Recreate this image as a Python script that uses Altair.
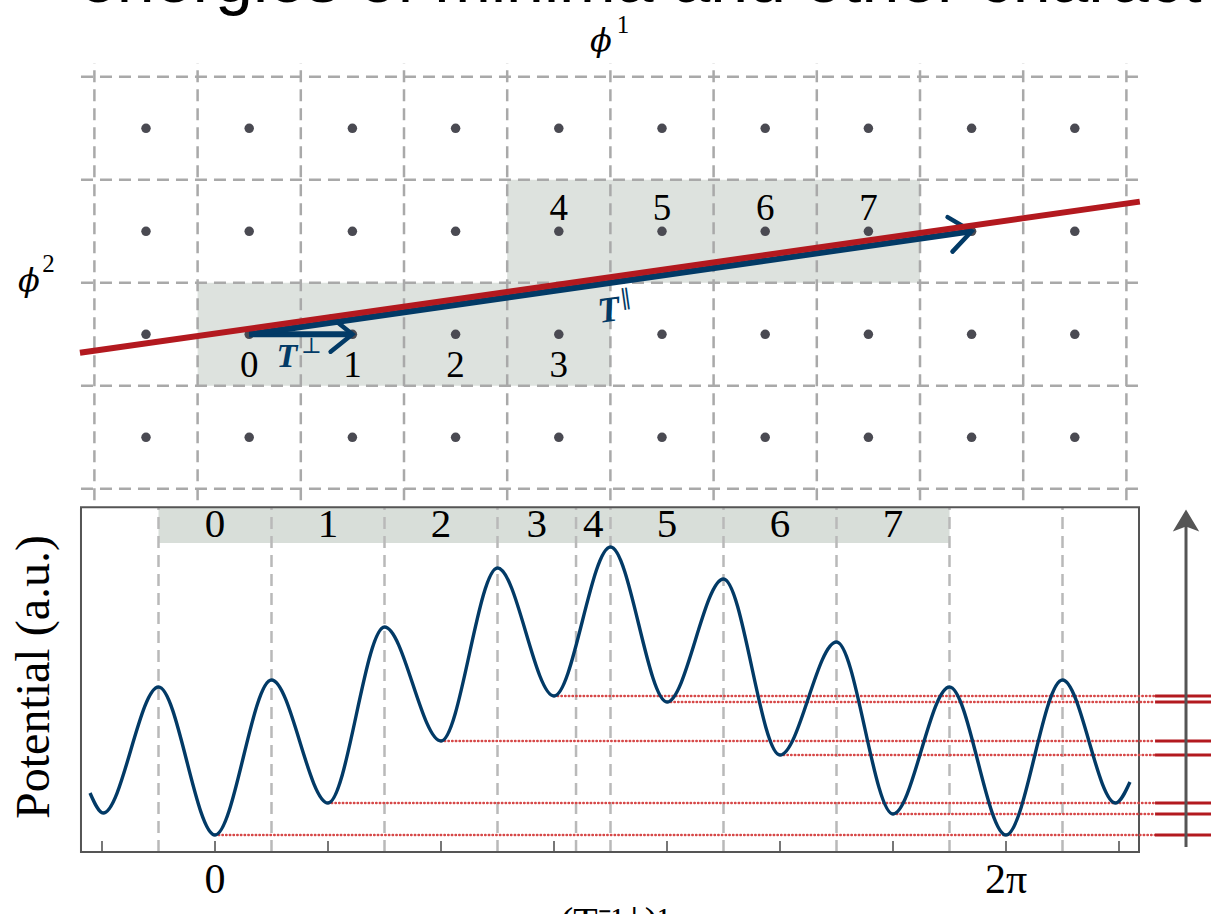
import math
import altair as alt
import pandas as pd

W, H = 1211, 914

# ---------------- data ----------------
TITLE_TEXT = "energies of minima and other charact"

LATTICE_COLS = list(range(10))
LATTICE_ROWS = list(range(4))
CELL_LABELS = ["0", "1", "2", "3", "4", "5", "6", "7"]
CELL_COLS = [1, 2, 3, 4, 4, 5, 6, 7]
CELL_ROWS = [1, 1, 1, 1, 2, 2, 2, 2]
T_PAR = [(1, 1), (8, 2)]     # lattice vector T parallel
T_PERP = [(1, 1), (2, 1)]    # lattice vector T perpendicular

# potential along the line (t in units of 2*pi/7)
POT_T = [-1.106, -0.99, -0.5, 0, 0.5, 1, 1.5, 2, 2.5, 3, 3.5, 4, 4.5, 5, 5.5, 6, 6.5, 7, 7.5, 7.97, 8.097]
POT_V = [5.9, 3.9, 16.5, 1.7, 17.2, 4.9, 22.5, 11.1, 28.4, 15.6, 30.5, 15.0, 27.3, 9.7, 21.0, 3.8, 16.5, 1.7, 17.2, 4.9, 7.0]
MIN_T = [0, 1, 2, 3, 4, 5, 6]
MIN_V = [1.7, 4.9, 11.1, 15.6, 15.0, 9.7, 3.8]
STRIP_EDGES = [-0.5, 0.5, 1.5, 2.5, 3.195, 3.5, 4.5, 5.5, 6.5]
DASH_T = STRIP_EDGES + [7.5]
TICK_T = list(range(-1, 9))
TICK_LABEL_T = [0, 7]
TICK_LABEL_TEXT = ["0", "2π"]

# ---------------- styles / scales ----------------
NAVY = "#023a66"
RED = "#b3191f"
DOTRED = "#d64848"
GRID = "#a9a9a9"
GRID2 = "#b9b9b9"
SHADE = "#dde2de"
STRIP = "#d8ded9"
DOT = "#4a4a52"
FRAME = "#555555"
SERIF = "Liberation Serif"

# top panel: lattice units
TX0, TXU = 146.0, 103.2
TY0, TYU = 437.3, 103.0
XT = alt.Scale(domain=[(0 - TX0) / TXU, (W - TX0) / TXU], nice=False, zero=False)
YT = alt.Scale(domain=[(TY0 - H) / TYU, TY0 / TYU], nice=False, zero=False)

# bottom panel: t in units of 2pi/7, potential in a.u.
BX0, BXU = 215.0, 113.0
BY0, BYU = 852.0, 10.0
XB = alt.Scale(domain=[(0 - BX0) / BXU, (W - BX0) / BXU], nice=False, zero=False)
YB = alt.Scale(domain=[(BY0 - H) / BYU, BY0 / BYU], nice=False, zero=False)

T_LO, T_HI, V_TOP = -1.186, 8.177, 34.47
STRIP_V = 30.9
LEVEL_END, TICK_END = 8.319, 8.82
ARROW_T = 8.593


def txt(x, y, s, xs, ys, **kw):
    df = pd.DataFrame({"x": [x], "y": [y], "s": [s]})
    return alt.Chart(df).mark_text(**kw).encode(
        x=alt.X("x:Q", scale=xs, axis=None),
        y=alt.Y("y:Q", scale=ys, axis=None),
        text="s:N",
    )


# ================= top panel =================
blocks = []
for r in sorted(set(CELL_ROWS)):
    cs = [c for c, rr in zip(CELL_COLS, CELL_ROWS) if rr == r]
    blocks.append({"i1": min(cs) - 0.5, "i2": max(cs) + 0.5, "j1": r - 0.5, "j2": r + 0.5})
shade = alt.Chart(pd.DataFrame(blocks)).mark_rect(color=SHADE, opacity=1).encode(
    x=alt.X("i1:Q", scale=XT, axis=None), x2="i2:Q",
    y=alt.Y("j1:Q", scale=YT, axis=None), y2="j2:Q")

vg = pd.DataFrame({"i": [c - 0.5 for c in range(len(LATTICE_COLS) + 1)], "j1": -0.61, "j2": 3.635})
vgrid = alt.Chart(vg).mark_rule(color=GRID, strokeWidth=2.5, strokeDash=[12, 7]).encode(
    x=alt.X("i:Q", scale=XT, axis=None),
    y=alt.Y("j1:Q", scale=YT, axis=None), y2="j2:Q")

hg = pd.DataFrame({"j": [r - 0.5 for r in range(len(LATTICE_ROWS) + 1)], "i1": -0.63, "i2": 9.62})
hgrid = alt.Chart(hg).mark_rule(color=GRID, strokeWidth=2.5, strokeDash=[12, 7]).encode(
    x=alt.X("i1:Q", scale=XT, axis=None), x2="i2:Q",
    y=alt.Y("j:Q", scale=YT, axis=None))

dots_df = pd.DataFrame([{"i": c, "j": r} for c in LATTICE_COLS for r in LATTICE_ROWS])
dots = alt.Chart(dots_df).mark_circle(size=90, color=DOT, opacity=1).encode(
    x=alt.X("i:Q", scale=XT, axis=None), y=alt.Y("j:Q", scale=YT, axis=None))

lab_df = pd.DataFrame({
    "label": CELL_LABELS,
    "i": CELL_COLS,
    "j": [r - 0.31 if r == min(CELL_ROWS) else r + 0.22 for r in CELL_ROWS],
})
cell_labels = alt.Chart(lab_df).mark_text(font=SERIF, fontSize=37, color="black", baseline="middle").encode(
    x=alt.X("i:Q", scale=XT, axis=None), y=alt.Y("j:Q", scale=YT, axis=None), text="label:N")

arrows = []
for (a, b) in (T_PERP, T_PAR):
    ang = math.degrees(math.atan2(-(b[1] - a[1]) * TYU, (b[0] - a[0]) * TXU)) % 360
    arrows.append({"i1": a[0], "j1": a[1], "i2": b[0], "j2": b[1], "ang": ang})
arrow_df = pd.DataFrame(arrows)
arrow_lines = alt.Chart(arrow_df).mark_rule(color=NAVY, strokeWidth=6).encode(
    x=alt.X("i1:Q", scale=XT, axis=None), x2="i2:Q",
    y=alt.Y("j1:Q", scale=YT, axis=None), y2="j2:Q")
CHEVRON = "M-1,-0.8L0,0L-1,0.8"
arrow_heads = alt.Chart(arrow_df).mark_point(
    shape=CHEVRON, filled=False, size=1900, strokeWidth=4.5, color=NAVY, opacity=1,
    strokeCap="round").encode(
    x=alt.X("i2:Q", scale=XT, axis=None), y=alt.Y("j2:Q", scale=YT, axis=None),
    angle=alt.Angle("ang:Q", scale=None))

# red line along T parallel, slightly above it
(a, b) = T_PAR
slope = (b[1] - a[1]) / (b[0] - a[0])
i_lo, i_hi, shift = -0.64, 9.63, 0.055
red_df = pd.DataFrame({
    "i1": [i_lo], "i2": [i_hi],
    "j1": [a[1] + shift + (i_lo - a[0]) * slope],
    "j2": [a[1] + shift + (i_hi - a[0]) * slope],
})
red_line = alt.Chart(red_df).mark_rule(color=RED, strokeWidth=6).encode(
    x=alt.X("i1:Q", scale=XT, axis=None), x2="i2:Q",
    y=alt.Y("j1:Q", scale=YT, axis=None), y2="j2:Q")

top_texts = [
    txt(-0.649, 4.228, TITLE_TEXT, XT, YT, font="Liberation Sans", fontSize=68, align="left",
        baseline="alphabetic", color="black"),
    txt(4.409, 3.848, "ϕ", XT, YT, font="DejaVu Serif", fontStyle="italic", fontSize=32,
        baseline="middle", color="black"),
    txt(4.622, 4.003, "1", XT, YT, font=SERIF, fontSize=25, baseline="middle", color="black"),
    txt(-1.134, 1.518, "ϕ", XT, YT, font="DejaVu Serif", fontStyle="italic", fontSize=32,
        baseline="middle", color="black"),
    txt(-0.944, 1.687, "2", XT, YT, font=SERIF, fontSize=25, baseline="middle", color="black"),
    txt(1.366, 0.784, "T", XT, YT, font=SERIF, fontStyle="italic", fontWeight="bold", fontSize=34,
        baseline="middle", color=NAVY),
    txt(1.605, 0.886, "⊥", XT, YT, font="DejaVu Serif", fontSize=22, baseline="middle", color=NAVY),
    txt(4.486, 1.231, "T", XT, YT, font=SERIF, fontStyle="italic", fontWeight="bold", fontSize=36,
        baseline="middle", color=NAVY, angle=352),
    txt(4.645, 1.357, "‖", XT, YT, font="DejaVu Serif", fontSize=22, baseline="middle", color=NAVY,
        angle=352),
]

top = alt.layer(shade, vgrid, hgrid, dots, cell_labels, arrow_lines, arrow_heads, red_line, *top_texts)

# ================= bottom panel =================
strip_df = pd.DataFrame({"t1": [STRIP_EDGES[0]], "t2": [STRIP_EDGES[-1]], "v1": [STRIP_V], "v2": [V_TOP]})
strip = alt.Chart(strip_df).mark_rect(color=STRIP, opacity=1).encode(
    x=alt.X("t1:Q", scale=XB, axis=None), x2="t2:Q",
    y=alt.Y("v1:Q", scale=YB, axis=None), y2="v2:Q")

dash_df = pd.DataFrame({"t": DASH_T, "v1": 0.0, "v2": V_TOP})
dashes = alt.Chart(dash_df).mark_rule(color=GRID2, strokeWidth=2.5, strokeDash=[12, 7]).encode(
    x=alt.X("t:Q", scale=XB, axis=None),
    y=alt.Y("v1:Q", scale=YB, axis=None), y2="v2:Q")

centers = [(p + q) / 2 for p, q in zip(STRIP_EDGES[:-1], STRIP_EDGES[1:])]
sl_df = pd.DataFrame({"t": centers, "v": (STRIP_V + V_TOP) / 2, "label": CELL_LABELS})
strip_labels = alt.Chart(sl_df).mark_text(font=SERIF, fontSize=41, color="black", baseline="middle").encode(
    x=alt.X("t:Q", scale=XB, axis=None), y=alt.Y("v:Q", scale=YB, axis=None), text="label:N")

frame_df = pd.DataFrame({"t1": [T_LO], "t2": [T_HI], "v1": [0.0], "v2": [V_TOP]})
frame = alt.Chart(frame_df).mark_rect(fillOpacity=0, stroke=FRAME, strokeWidth=2).encode(
    x=alt.X("t1:Q", scale=XB, axis=None), x2="t2:Q",
    y=alt.Y("v1:Q", scale=YB, axis=None), y2="v2:Q")

lev_df = pd.DataFrame({"t1": MIN_T, "t2": LEVEL_END, "t3": TICK_END, "v": MIN_V})
levels = alt.Chart(lev_df).mark_rule(color=DOTRED, strokeWidth=2.4, strokeDash=[0.5, 3.2],
                                      strokeCap="round").encode(
    x=alt.X("t1:Q", scale=XB, axis=None), x2="t2:Q",
    y=alt.Y("v:Q", scale=YB, axis=None))
level_ticks = alt.Chart(lev_df).mark_rule(color=RED, strokeWidth=3).encode(
    x=alt.X("t2:Q", scale=XB, axis=None), x2="t3:Q",
    y=alt.Y("v:Q", scale=YB, axis=None))

pot_df = pd.DataFrame({"t": POT_T, "v": POT_V})
curve = alt.Chart(pot_df).mark_line(color=NAVY, strokeWidth=3.4, interpolate="monotone").encode(
    x=alt.X("t:Q", scale=XB, axis=None), y=alt.Y("v:Q", scale=YB, axis=None))

tick_df = pd.DataFrame({"t": TICK_T, "v1": 0.0, "v2": 1.1})
ticks = alt.Chart(tick_df).mark_rule(color=FRAME, strokeWidth=1.6).encode(
    x=alt.X("t:Q", scale=XB, axis=None),
    y=alt.Y("v1:Q", scale=YB, axis=None), y2="v2:Q")

tl_df = pd.DataFrame({"t": TICK_LABEL_T, "v": -2.8, "label": TICK_LABEL_TEXT})
tick_labels = alt.Chart(tl_df).mark_text(font=SERIF, fontSize=42, color="black", baseline="middle").encode(
    x=alt.X("t:Q", scale=XB, axis=None), y=alt.Y("v:Q", scale=YB, axis=None), text="label:N")

arrow_df2 = pd.DataFrame({"t": [ARROW_T], "v1": [0.5], "v2": [33.4], "vh": [33.15]})
energy_axis = alt.Chart(arrow_df2).mark_rule(color=FRAME, strokeWidth=3).encode(
    x=alt.X("t:Q", scale=XB, axis=None), y=alt.Y("v1:Q", scale=YB, axis=None), y2="v2:Q")
STEALTH = "M0,-1L1.2,1L0,0.55L-1.2,1Z"
energy_head = alt.Chart(arrow_df2).mark_point(shape=STEALTH, filled=True, size=484, color=FRAME,
                                               opacity=1).encode(
    x=alt.X("t:Q", scale=XB, axis=None), y=alt.Y("vh:Q", scale=YB, axis=None))

bottom_texts = [
    txt(-1.593, 17.5, "Potential (a.u.)", XB, YB, font=SERIF, fontSize=48, angle=270,
        baseline="middle", color="black"),
    txt(3.54, -5.1, "(T⁻¹ϕ)¹", XB, YB, font=SERIF, fontSize=40, baseline="top", color="black"),
]

bottom = alt.layer(strip, dashes, strip_labels, frame, levels, level_ticks, curve, ticks,
                   tick_labels, energy_axis, energy_head, *bottom_texts)

chart = alt.layer(top, bottom).resolve_scale(x="independent", y="independent").properties(
    width=W, height=H, autosize=alt.AutoSizeParams(type="none"), padding=0,
).configure_view(stroke=None)

chart.save("out.html", embed_options={"renderer": "svg", "actions": False})
